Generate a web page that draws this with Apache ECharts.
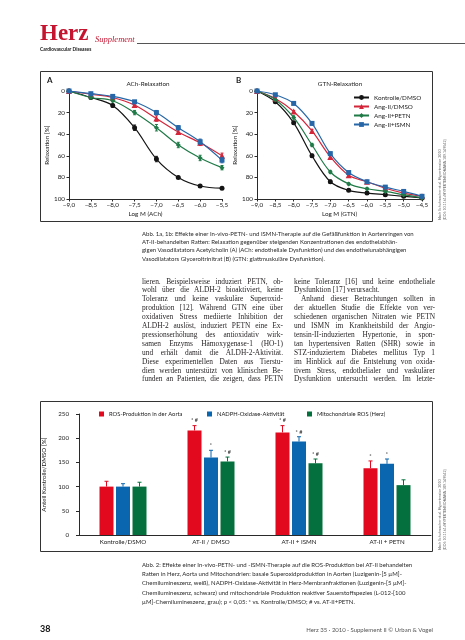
<!DOCTYPE html>
<html><head><meta charset="utf-8">
<script src="https://cdn.jsdelivr.net/npm/echarts@6/dist/echarts.min.js"></script>
<style>
html,body{margin:0;padding:0;background:#fff;}
#page{position:relative;width:465px;height:640px;overflow:hidden;background:#fff;}
#chart{position:absolute;left:0;top:0;width:465px;height:640px;}
.col{position:absolute;font-family:"Liberation Serif","DejaVu Serif",serif;font-size:7.4px;line-height:8.9px;color:#231f20;width:141px;z-index:2;}
.col div{white-space:nowrap;text-align:justify;text-align-last:justify;}
.col div.l{text-align-last:left;}
.col div.ind{text-indent:7px;}
.cap{position:absolute;font-family:Lato,"Open Sans",sans-serif;font-size:6px;line-height:8px;color:#2b2b2b;z-index:2;white-space:nowrap;}
</style></head>
<body><div id="page">
<div id="chart"></div>
<div class="cap" id="cap1" style="left:142px;top:230px;line-height:8.2px;">
<div>Abb. 1a, 1b: Effekte einer In-vivo-PETN- und ISMN-Therapie auf die Gefäßfunktion in Aortenringen von</div>
<div>AT-II-behandelten Ratten: Relaxation gegenüber steigenden Konzentrationen des endothelabhän-</div>
<div>gigen Vasodilatators Acetylcholin (A) (ACh: endotheliale Dysfunktion) und des endothelunabhängigen</div>
<div>Vasodilatators Glyceroltrinitrat (B) (GTN: glattmuskuläre Dysfunktion).</div>
</div>
<div class="col" style="left:142px;top:277.5px;">
<div>lieren. Beispielsweise induziert PETN, ob-</div>
<div>wohl über die ALDH-2 bioaktiviert, keine</div>
<div>Toleranz und keine vaskuläre Superoxid-</div>
<div>produktion [12]. Während GTN eine über</div>
<div>oxidativen Stress mediierte Inhibition der</div>
<div>ALDH-2 auslöst, induziert PETN eine Ex-</div>
<div>pressionserhöhung des antioxidativ wirk-</div>
<div>samen Enzyms Hämoxygenase-1 (HO-1)</div>
<div>und erhält damit die ALDH-2-Aktivität.</div>
<div>Diese experimentellen Daten aus Tierstu-</div>
<div>dien werden unterstützt von klinischen Be-</div>
<div>funden an Patienten, die zeigen, dass PETN</div>
</div>
<div class="col" style="left:294px;top:277.5px;">
<div>keine Toleranz [16] und keine endotheliale</div>
<div class="l">Dysfunktion [17] verursacht.</div>
<div class="ind">Anhand dieser Betrachtungen sollten in</div>
<div>der aktuellen Studie die Effekte von ver-</div>
<div>schiedenen organischen Nitraten wie PETN</div>
<div>und ISMN im Krankheitsbild der Angio-</div>
<div>tensin-II-induzierten Hypertonie, in spon-</div>
<div>tan hypertensiven Ratten (SHR) sowie in</div>
<div>STZ-induziertem Diabetes mellitus Typ 1</div>
<div>im Hinblick auf die Entstehung von oxida-</div>
<div>tivem Stress, endothelialer und vaskulärer</div>
<div>Dysfunktion untersucht werden. Im letzte-</div>
</div>
<div class="cap" id="cap2" style="left:142px;top:560px;line-height:9.2px;">
<div>Abb. 2: Effekte einer In-vivo-PETN- und -ISMN-Therapie auf die ROS-Produktion bei AT-II behandelten</div>
<div>Ratten in Herz, Aorta und Mitochondrien: basale Superoxidproduktion in Aorten (Luzigenin-[5 µM]-</div>
<div>Chemilumineszenz, weiß), NADPH-Oxidase-Aktivität in Herz-Membranfraktionen (Luzigenin-[5 µM]-</div>
<div>Chemilumineszenz, schwarz) und mitochondriale Produktion reaktiver Sauerstoffspezies (L-012-[100</div>
<div>µM]-Chemilumineszenz, grau); p &lt; 0,05: * vs. Kontrolle/DMSO; # vs. AT-II+PETN.</div>
</div>
</div>
<script>
// ---------- data ----------
const seriesNames = ['Kontrolle/DMSO', 'Ang-II/DMSO', 'Ang-II+PETN', 'Ang-II+ISMN'];
const xAch = [-9, -8.5, -8, -7.5, -7, -6.5, -6, -5.5];
const achKontrolle = [0, 6, 13.5, 34, 63, 80, 88, 90];
const achAngII     = [0, 3, 6, 13, 25.5, 38, 48, 60];
const achPETN      = [0, 6, 9, 20, 34, 50, 62, 71];
const achISMN      = [0, 2.5, 5, 10, 20, 34, 47, 64];
const achKontrolleErr = [0, 1, 1.5, 2.5, 2.5, 1, 1, 1];
const achAngIIErr     = [0, 1, 1, 1.5, 2.5, 2, 2.5, 2.5];
const achPETNErr      = [0, 1, 1, 2, 3, 2.5, 2.5, 2];
const achISMNErr      = [0, 1, 1, 1, 2, 2, 2.5, 2.5];
const xGtn = [-9, -8.5, -8, -7.5, -7, -6.5, -6, -5.5, -5, -4.5];
const gtnKontrolle = [0, 10, 29.5, 60, 84, 92, 94.5, 96, 97.5, 99];
const gtnAngII     = [0, 7, 19, 37, 61, 78, 84, 90, 94.5, 97.5];
const gtnPETN      = [0, 8, 24.5, 50, 75, 86, 90.5, 93, 96, 99];
const gtnISMN      = [0, 3.5, 11.5, 30, 58, 75.5, 84, 89, 93, 97.5];
const gtnKontrolleErr = [0, 1, 1.5, 1.5, 1.5, 1, 1, 1, 1, 1];
const gtnAngIIErr     = [0, 1, 1, 1.5, 1.5, 1, 1, 1, 1, 1];
const gtnPETNErr      = [0, 1, 1.5, 1.5, 1.5, 1, 1, 1, 1, 1];
const gtnISMNErr      = [0, 1, 1, 1.5, 1.5, 1, 1, 1, 1, 1];
const tickLabelsLog = ['−9,0', '−8,5', '−8,0', '−7,5', '−7,0', '−6,5', '−6,0', '−5,5', '−5,0', '−4,5'];
const relaxTicks = [0, 20, 40, 60, 80, 100];

const barCategories = ['Kontrolle/DSMO', 'AT-II / DMSO', 'AT-II + ISMN', 'AT-II + PETN'];
const barNames = ['ROS-Produktion in der Aorta', 'NADPH-Oxidase-Aktivität', 'Mitochondriale ROS (Herz)'];
const rosAorta = [100, 216, 212, 138];
const nadph    = [100, 160, 193, 147];
const mitoRos  = [100, 152, 148, 103];
const rosAortaErr = [11, 10, 14, 15];
const nadphErr    = [6, 15, 10, 10];
const mitoRosErr  = [9, 9, 9, 11];
const rosAortaSig = ['', '* #', '* #', '*'];
const nadphSig    = ['', '*', '* #', '*'];
const mitoRosSig  = ['', '* #', '* #', ''];

// ---------- styles ----------
const FONT = 'Lato, "Open Sans", sans-serif';
const AX = '#2a2a2a';
const lineColors = ['#141414', '#d3263a', '#1f7a47', '#2767a8'];
const lineSymbols = ['circle', 'triangle', 'diamond', 'rect'];
const barColors = ['#e2091f', '#0b66b0', '#03703d'];
const BAR_W = 14, BAR_GAP = 2.5;
const SRC1 = 'Nach Schuhmacher et al. Hypertension 2010';
const SRC2 = '[DOI: 10.1161/HYPERTENSIONAHA.109.149542]';

function logLabel(v) { return tickLabelsLog[Math.round((v + 9) / 0.5)] || ''; }

function xAxisLog(gi, min, max, name) {
  return { type: 'value', gridIndex: gi, min: min, max: max, interval: 0.5,
    name: name, nameLocation: 'middle', nameGap: 12,
    nameTextStyle: { fontSize: 6.3, fontFamily: FONT, color: '#222' },
    axisLine: { onZero: false, lineStyle: { color: AX, width: 1 } },
    axisTick: { length: 2.5, lineStyle: { color: AX } },
    axisLabel: { fontSize: 6.3, fontFamily: FONT, color: '#222', margin: 3, formatter: logLabel },
    splitLine: { show: false } };
}
function yAxisRelax(gi) {
  return { type: 'value', gridIndex: gi, inverse: true, min: 0, max: 100, interval: 20,
    name: 'Relaxation [%]', nameLocation: 'middle', nameRotate: 90, nameGap: 15,
    nameTextStyle: { fontSize: 6.3, fontFamily: FONT, color: '#222' },
    axisLine: { show: true, lineStyle: { color: AX, width: 1 } },
    axisTick: { show: true, length: 2.5, lineStyle: { color: AX } },
    axisLabel: { fontSize: 6.3, fontFamily: FONT, color: '#222', margin: 4,
      formatter: v => relaxTicks.indexOf(v) >= 0 ? String(v) : '' },
    splitLine: { show: false } };
}
function lineSeries(i, xs, ys, axi) {
  return { type: 'line', name: seriesNames[i], xAxisIndex: axi, yAxisIndex: axi,
    data: xs.map((x, k) => [x, ys[k]]), smooth: 0.35,
    symbol: lineSymbols[i], symbolSize: i === 1 ? 6 : 5, showAllSymbol: true,
    itemStyle: { color: lineColors[i] }, lineStyle: { color: lineColors[i], width: 1.2 },
    z: 3 + i, animation: false };
}
function errSeries(i, xs, ys, es, axi) {
  const c = lineColors[i];
  return { type: 'custom', xAxisIndex: axi, yAxisIndex: axi, silent: true, z: 2 + i, animation: false,
    encode: { x: 0, y: 1 },
    data: xs.map((x, k) => [x, ys[k], es[k]]),
    renderItem: (p, api) => {
      const x = api.value(0), y = api.value(1), e = api.value(2);
      if (!e) return null;
      const a = api.coord([x, y - e]), b = api.coord([x, y + e]);
      const st = { stroke: c, lineWidth: 1 };
      return { type: 'group', children: [
        { type: 'line', shape: { x1: a[0], y1: a[1], x2: b[0], y2: b[1] }, style: st },
        { type: 'line', shape: { x1: a[0] - 1.5, y1: a[1], x2: a[0] + 1.5, y2: a[1] }, style: st },
        { type: 'line', shape: { x1: b[0] - 1.5, y1: b[1], x2: b[0] + 1.5, y2: b[1] }, style: st }
      ] };
    } };
}
function barSeries(i, vals) {
  return { type: 'bar', name: barNames[i], xAxisIndex: 2, yAxisIndex: 2, data: vals,
    barWidth: BAR_W, barGap: (BAR_GAP / BAR_W * 100) + '%',
    itemStyle: { color: barColors[i] }, z: 2, animation: false };
}
function barErrSeries(i, vals, errs, sigs) {
  const c = barColors[i];
  const off = (i - 1) * (BAR_W + BAR_GAP);
  return { type: 'custom', xAxisIndex: 2, yAxisIndex: 2, silent: true, z: 3, animation: false,
    encode: { x: 0, y: 1 },
    data: vals.map((v, k) => [k, v, errs[k]]),
    renderItem: (p, api) => {
      const k = api.value(0), v = api.value(1), e = api.value(2);
      const base = api.coord([k, v]);
      const top = api.coord([k, v + e]);
      const x = base[0] + off;
      const st = { stroke: c, lineWidth: 1 };
      const ch = [
        { type: 'line', shape: { x1: x, y1: base[1], x2: x, y2: top[1] }, style: st },
        { type: 'line', shape: { x1: x - 2, y1: top[1], x2: x + 2, y2: top[1] }, style: st }
      ];
      const s = sigs[p.dataIndex];
      if (s) ch.push({ type: 'text', x: x, y: top[1] - 5,
        style: { text: s, fontSize: 5.5, fontFamily: FONT, fill: '#222', align: 'center', verticalAlign: 'middle' } });
      return { type: 'group', children: ch };
    } };
}

const txt = (x, y, s, size, opts) => Object.assign({ type: 'text', x: x, y: y, silent: true,
  style: Object.assign({ text: s, fontSize: size, fontFamily: FONT, fill: '#222' }, opts || {}) });
const vtxt = (x, y, s) => ({ type: 'text', silent: true, x: x, y: y, rotation: Math.PI / 2,
  style: { text: s, fontSize: 3.6, fontFamily: FONT, fill: '#666', align: 'left', verticalAlign: 'middle' } });

const option = {
  backgroundColor: 'transparent',
  animation: false,
  grid: [
    { left: 69, top: 91, width: 153, height: 108, containLabel: false, outerBoundsMode: 'none' },
    { left: 257, top: 91, width: 165, height: 108, containLabel: false, outerBoundsMode: 'none' },
    { left: 79, top: 414, width: 352, height: 121, containLabel: false, outerBoundsMode: 'none' }
  ],
  xAxis: [
    xAxisLog(0, -9, -5.5, 'Log M (ACh)'),
    xAxisLog(1, -9, -4.5, 'Log M (GTN)'),
    { type: 'category', gridIndex: 2, data: barCategories,
      axisLine: { lineStyle: { color: AX, width: 1 } }, axisTick: { show: false },
      axisLabel: { fontSize: 6.2, fontFamily: FONT, color: '#222', margin: 4 } }
  ],
  yAxis: [
    yAxisRelax(0),
    yAxisRelax(1),
    { type: 'value', gridIndex: 2, min: 0, max: 250, interval: 50,
      name: 'Anteil Kontrolle/DMSO [%]', nameLocation: 'middle', nameRotate: 90, nameGap: 23,
      nameTextStyle: { fontSize: 6.2, fontFamily: FONT, color: '#222' },
      axisLine: { show: true, lineStyle: { color: AX, width: 1 } },
      axisTick: { show: true, length: 3, lineStyle: { color: AX } },
      axisLabel: { fontSize: 6.2, fontFamily: FONT, color: '#222', margin: 10 },
      splitLine: { show: false } }
  ],
  legend: [
    { orient: 'vertical', left: 353, top: 94, padding: 0, itemGap: 2, itemWidth: 15, itemHeight: 6,
      data: seriesNames, selectedMode: false,
      textStyle: { fontSize: 6.3, fontFamily: FONT, color: '#222', lineHeight: 7 } },
    { left: 99, top: 411, padding: 0, itemWidth: 5, itemHeight: 5, icon: 'rect', data: [barNames[0]], selectedMode: false,
      textStyle: { fontSize: 5.8, fontFamily: FONT, color: '#222' } },
    { left: 207, top: 411, padding: 0, itemWidth: 5, itemHeight: 5, icon: 'rect', data: [barNames[1]], selectedMode: false,
      textStyle: { fontSize: 5.8, fontFamily: FONT, color: '#222' } },
    { left: 307, top: 411, padding: 0, itemWidth: 5, itemHeight: 5, icon: 'rect', data: [barNames[2]], selectedMode: false,
      textStyle: { fontSize: 5.8, fontFamily: FONT, color: '#222' } }
  ],
  graphic: [
    // header
    txt(40, 46, 'Herz', 23, { fontFamily: '"Liberation Serif", serif', fontWeight: 'bold', fill: '#c4142f', verticalAlign: 'bottom' }),
    txt(95, 44, 'Supplement', 8.5, { fontFamily: '"Liberation Serif", serif', fontStyle: 'italic', fill: '#c4142f', verticalAlign: 'bottom' }),
    { type: 'line', silent: true, shape: { x1: 137, y1: 43.5, x2: 465, y2: 43.5 }, style: { stroke: '#555', lineWidth: 1 } },
    txt(40, 49, 'Cardiovascular Diseases', 4.8, { fontWeight: 'bold', fill: '#111', verticalAlign: 'middle' }),
    // figure 1 frame
    { type: 'rect', silent: true, shape: { x: 40.5, y: 71.5, width: 392, height: 150 }, style: { fill: 'none', stroke: '#333', lineWidth: 1 }, z: -1 },
    txt(47, 80, 'A', 8, { fontWeight: 'bold', verticalAlign: 'middle' }),
    txt(236, 80, 'B', 8, { fontWeight: 'bold', verticalAlign: 'middle' }),
    txt(148, 84, 'ACh-Relaxation', 6.3, { align: 'center', verticalAlign: 'middle' }),
    txt(340, 84, 'GTN-Relaxation', 6.3, { align: 'center', verticalAlign: 'middle' }),
    vtxt(440, 220, SRC1),
    vtxt(445, 220, SRC2),
    // figure 2 frame
    { type: 'rect', silent: true, shape: { x: 40.5, y: 401.5, width: 392, height: 150 }, style: { fill: 'none', stroke: '#333', lineWidth: 1 }, z: -1 },
    vtxt(440, 550, SRC1),
    vtxt(445, 550, SRC2),
    // footer
    txt(40, 629, '38', 9, { fontWeight: 'bold', fill: '#111', verticalAlign: 'middle' }),
    txt(433, 630, 'Herz 35 · 2010 · Supplement II © Urban & Vogel', 6, { fill: '#555', align: 'right', verticalAlign: 'middle' })
  ],
  series: [
    errSeries(0, xAch, achKontrolle, achKontrolleErr, 0),
    errSeries(1, xAch, achAngII, achAngIIErr, 0),
    errSeries(2, xAch, achPETN, achPETNErr, 0),
    errSeries(3, xAch, achISMN, achISMNErr, 0),
    lineSeries(0, xAch, achKontrolle, 0),
    lineSeries(1, xAch, achAngII, 0),
    lineSeries(2, xAch, achPETN, 0),
    lineSeries(3, xAch, achISMN, 0),
    errSeries(0, xGtn, gtnKontrolle, gtnKontrolleErr, 1),
    errSeries(1, xGtn, gtnAngII, gtnAngIIErr, 1),
    errSeries(2, xGtn, gtnPETN, gtnPETNErr, 1),
    errSeries(3, xGtn, gtnISMN, gtnISMNErr, 1),
    lineSeries(0, xGtn, gtnKontrolle, 1),
    lineSeries(1, xGtn, gtnAngII, 1),
    lineSeries(2, xGtn, gtnPETN, 1),
    lineSeries(3, xGtn, gtnISMN, 1),
    barSeries(0, rosAorta),
    barSeries(1, nadph),
    barSeries(2, mitoRos),
    barErrSeries(0, rosAorta, rosAortaErr, rosAortaSig),
    barErrSeries(1, nadph, nadphErr, nadphSig),
    barErrSeries(2, mitoRos, mitoRosErr, mitoRosSig)
  ]
};
const chart = echarts.init(document.getElementById('chart'));
chart.setOption(option);
</script>
</body></html>
